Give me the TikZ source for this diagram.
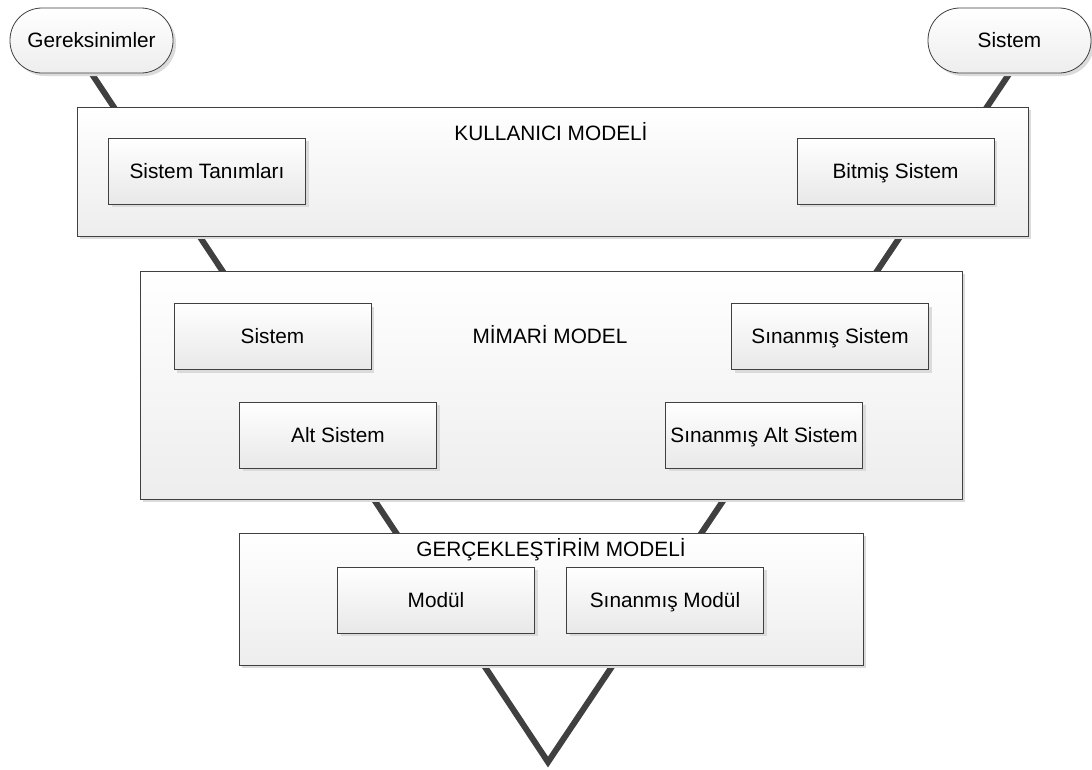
\documentclass[tikz,border=0pt]{standalone}
\usepackage{fontspec}
\setmainfont{Liberation Sans}
\usetikzlibrary{shadows}
\pgfdeclarelayer{background}
\pgfsetlayers{background,main}

\tikzset{
  labelfont/.style={font=\fontsize{20.8}{25}\selectfont},
  boxshadow/.style={drop shadow={shadow xshift=3pt, shadow yshift=-3pt, fill=black!14, opacity=1}},
  panel/.style={draw=black!75, line width=0.8pt, top color=white, bottom color=black!7,
                boxshadow, inner sep=0pt, text height=14pt, text depth=0pt, labelfont},
  stepbox/.style={panel, minimum width=197pt, minimum height=66pt, bottom color=black!9},
  endcap/.style={panel, rounded corners=32pt, minimum width=163pt, minimum height=65pt},
  title/.style={anchor=base, inner sep=0pt, labelfont},
  vline/.style={draw=black!75, line width=6pt, line join=miter}
}

\begin{document}
\begin{tikzpicture}[x=1pt, y=-1pt]
  \useasboundingbox (0,0) rectangle (1092,769);

  % start and end terminals
  \node[endcap] (gerek) at (91.5,40.5) {Gereksinimler};
  \node[endcap] (sist)  at (1009.5,40.5) {Sistem};

  % user model
  \node[panel, minimum width=951pt, minimum height=129pt] (kull) at (552.5,171.5) {};
  \node[title] (kullT) at (551,140) {KULLANICI MODELİ};
  \node[stepbox] (tanim)  at (207,171) {Sistem Tanımları};
  \node[stepbox] (bitmis) at (895.5,171) {Bitmiş Sistem};

  % architectural model
  \node[panel, minimum width=822pt, minimum height=228pt] (mimari) at (551,385) {};
  \node[title] (mimariT) at (550,343) {MİMARİ MODEL};
  \node[stepbox] (sis)    at (272.5,336.5) {Sistem};
  \node[stepbox] (alt)    at (338,435) {Alt Sistem};
  \node[stepbox] (sinsis) at (830,336.5) {Sınanmış Sistem};
  \node[stepbox] (sinalt) at (764,435) {Sınanmış Alt Sistem};

  % implementation model
  \node[panel, minimum width=624pt, minimum height=132pt] (gerc) at (551,599) {};
  \node[title] (gercT) at (551,556) {GERÇEKLEŞTİRİM MODELİ};
  \node[stepbox] (modul)    at (436,600) {Modül};
  \node[stepbox] (sinmodul) at (665,600) {Sınanmış Modül};

  % white page, then the V line running behind the model boxes
  \coordinate (apex) at (548,762);
  \begin{pgfonlayer}{background}
    \fill[white] (0,0) rectangle (1092,769);
    \draw[vline] (gerek.south) -- (apex) -- (sist.south);
  \end{pgfonlayer}
\end{tikzpicture}
\end{document}
